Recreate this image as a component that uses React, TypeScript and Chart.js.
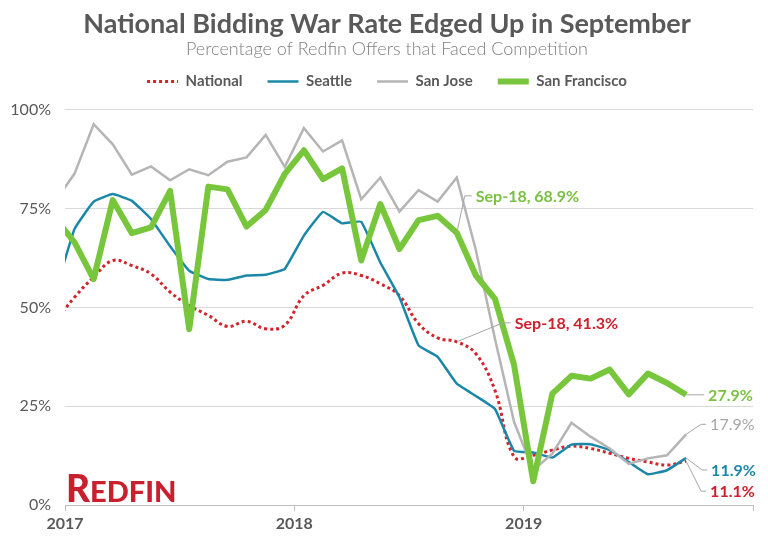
import React, { useEffect, useRef } from 'react';
import { Chart, registerables } from 'chart.js';

Chart.register(...registerables);

// Monthly data (Dec 2016 – Sep 2019), share of Redfin offers that faced competition (%)
const months = [
  '2016-12',
  '2017-01', '2017-02', '2017-03', '2017-04', '2017-05', '2017-06',
  '2017-07', '2017-08', '2017-09', '2017-10', '2017-11', '2017-12',
  '2018-01', '2018-02', '2018-03', '2018-04', '2018-05', '2018-06',
  '2018-07', '2018-08', '2018-09', '2018-10', '2018-11', '2018-12',
  '2019-01', '2019-02', '2019-03', '2019-04', '2019-05', '2019-06',
  '2019-07', '2019-08', '2019-09',
];

const national = [
  46.5,
  52.6, 57.7, 61.9, 60.6, 58.5, 53.9, 50.5, 48.0, 45.2, 46.5, 44.6, 45.5,
  53.0, 55.6, 58.7, 58.1, 56.0, 53.0, 45.9, 42.3, 41.3, 38.3, 29.0, 12.2,
  12.6, 13.9, 14.9, 14.3, 13.1, 11.8, 10.9, 10.1, 11.1,
];

const seattle = [
  54.0,
  69.9, 76.8, 78.7, 77.0, 72.4, 65.5, 59.3, 57.2, 57.0, 58.1, 58.3, 59.8,
  68.2, 74.2, 71.3, 71.7, 61.4, 52.6, 40.4, 37.5, 30.7, 27.6, 24.3, 13.7,
  13.3, 12.0, 15.3, 15.4, 13.9, 10.9, 7.8, 8.8, 11.9,
];

const sanJose = [
  77.0,
  83.9, 96.4, 91.3, 83.6, 85.7, 82.2, 85.0, 83.5, 86.9, 88.0, 93.7, 85.6,
  95.4, 89.5, 92.3, 77.4, 82.9, 74.3, 79.7, 76.8, 82.9, 64.5, 42.0, 21.0,
  8.8, 13.0, 20.8, 17.3, 14.3, 10.4, 11.8, 12.6, 17.9,
];

const sanFrancisco = [
  72.5,
  66.5, 57.2, 77.2, 68.8, 70.3, 79.5, 44.5, 80.6, 79.9, 70.5, 74.7, 83.8,
  89.8, 82.5, 85.2, 61.9, 76.2, 64.8, 72.1, 73.2, 68.9, 58.1, 52.2, 35.4,
  6.0, 28.2, 32.7, 32.0, 34.3, 28.0, 33.3, 30.9, 27.9,
];

const yearLabels = ['2017', '2018', '2019'];
const yTickValues = [0, 25, 50, 75, 100];

const TITLE = 'National Bidding War Rate Edged Up in September';
const SUBTITLE = 'Percentage of Redfin Offers that Faced Competition';

const COLORS = {
  national: '#d3242c',
  seattle: '#1b87a8',
  sanJose: '#b5b5b5',
  sanFrancisco: '#78c63c',
  text: '#595959',
  grid: '#d9d9d9',
  leader: '#a6a6a6',
};

// month label -> position on a linear month axis (0 = start of Jan 2017), mid-month
const monthPos = (m: string) => {
  const [yy, mm] = m.split('-').map(Number);
  return (yy - 2017) * 12 + (mm - 1) + 0.5;
};

const toPoints = (vals: number[]) => vals.map((v, i) => ({ x: monthPos(months[i]), y: v }));

// nudge the header blocks (title, subtitle, legend) a little to the right
const headerShiftPlugin = {
  id: 'headerShift',
  afterLayout(chart: any) {
    chart.boxes.forEach((b: any) => {
      if (b.position === 'top' && b.fullSize) {
        b.left += 10.5;
        b.right += 10.5;
      }
    });
  },
};

const annotationPlugin = {
  id: 'annotations',
  afterDatasetsDraw(chart: any) {
    const { ctx, scales } = chart;
    const xs = scales.x;
    const ys = scales.y;
    const sepIdx = months.indexOf('2018-09');
    const last = months.length - 1;
    const P = (vals: number[], i: number) => ({
      x: xs.getPixelForValue(monthPos(months[i])),
      y: ys.getPixelForValue(vals[i]),
    });
    const fmt = (v: number) => v.toFixed(1) + '%';

    type Ann = { p: { x: number; y: number }; mid: [number, number]; end: [number, number]; text: string; color: string; weight: string };
    const anns: Ann[] = [
      { p: P(sanFrancisco, sepIdx), mid: [8, -37], end: [15, -37], text: 'Sep-18, ' + fmt(sanFrancisco[sepIdx]), color: '#7ac143', weight: 'bold' },
      { p: P(national, sepIdx), mid: [46, -19], end: [54, -19], text: 'Sep-18, ' + fmt(national[sepIdx]), color: '#d0202e', weight: 'bold' },
      { p: P(sanFrancisco, last), mid: [10, 0], end: [18, 0], text: fmt(sanFrancisco[last]), color: '#7ac143', weight: 'bold' },
      { p: P(sanJose, last), mid: [15, -10], end: [20, -10], text: fmt(sanJose[last]), color: '#a6a6a6', weight: 'normal' },
      { p: P(seattle, last), mid: [16, 12], end: [21, 12], text: fmt(seattle[last]), color: '#1b87a8', weight: 'bold' },
      { p: P(national, last), mid: [15, 30], end: [20, 30], text: fmt(national[last]), color: '#d0202e', weight: 'bold' },
    ];

    ctx.save();
    for (const a of anns) {
      ctx.strokeStyle = COLORS.leader;
      ctx.lineWidth = 1;
      ctx.setLineDash([]);
      ctx.beginPath();
      ctx.moveTo(a.p.x, a.p.y);
      ctx.lineTo(a.p.x + a.mid[0], a.p.y + a.mid[1]);
      ctx.lineTo(a.p.x + a.end[0], a.p.y + a.end[1]);
      ctx.stroke();
      ctx.fillStyle = a.color;
      ctx.font = `${a.weight} 16px Lato`;
      ctx.textAlign = 'left';
      ctx.textBaseline = 'middle';
      ctx.fillText(a.text, a.p.x + a.end[0] + 4, a.p.y + a.end[1] + 1);
    }

    // Redfin wordmark
    const left = chart.chartArea.left + 1;
    const base = chart.chartArea.bottom - 3;
    ctx.fillStyle = '#c8202f';
    ctx.textBaseline = 'alphabetic';
    ctx.font = '900 37px Lato';
    ctx.fillText('R', left, base);
    const rw = ctx.measureText('R').width;
    ctx.font = '900 29px Lato';
    ctx.fillText('EDFIN', left + rw, base);
    ctx.restore();
  },
};

export default function App() {
  const canvasRef = useRef<HTMLCanvasElement | null>(null);

  useEffect(() => {
    if (!canvasRef.current) return;
    const chart = new Chart(canvasRef.current, {
      type: 'line',
      data: {
        datasets: [
          {
            label: 'San Francisco',
            data: toPoints(sanFrancisco),
            borderColor: COLORS.sanFrancisco,
            backgroundColor: COLORS.sanFrancisco,
            borderWidth: 6,
            borderJoinStyle: 'round',
            pointRadius: 0,
            pointHoverRadius: 0,
            tension: 0,
          },
          {
            label: 'San Jose',
            data: toPoints(sanJose),
            borderColor: COLORS.sanJose,
            backgroundColor: COLORS.sanJose,
            borderWidth: 2.5,
            pointRadius: 0,
            pointHoverRadius: 0,
            tension: 0,
          },
          {
            label: 'Seattle',
            data: toPoints(seattle),
            borderColor: COLORS.seattle,
            backgroundColor: COLORS.seattle,
            borderWidth: 2.5,
            pointRadius: 0,
            pointHoverRadius: 0,
            tension: 0.1,
          },
          {
            label: 'National',
            data: toPoints(national),
            borderColor: COLORS.national,
            backgroundColor: COLORS.national,
            borderWidth: 3,
            borderDash: [3, 3],
            pointRadius: 0,
            pointHoverRadius: 0,
            tension: 0.4,
          },
        ],
      },
      options: {
        animation: false,
        responsive: false,
        maintainAspectRatio: false,
        layout: { padding: { left: 0, right: 15, top: 0, bottom: 0 } },
        plugins: {
          tooltip: { enabled: false },
          title: {
            display: true,
            text: TITLE,
            color: COLORS.text,
            font: { family: 'Lato', size: 27, weight: 'bold', lineHeight: 0 },
            padding: { top: 24, bottom: 0 },
          },
          subtitle: {
            display: true,
            text: SUBTITLE,
            color: '#808080',
            font: { family: 'Lato', size: 18, weight: 300, lineHeight: 0 },
            padding: { top: 25, bottom: 0 },
          },
          legend: {
            display: true,
            position: 'top',
            labels: {
              usePointStyle: true,
              pointStyleWidth: 31,
              padding: 25,
              color: COLORS.text,
              font: { family: 'Lato', size: 15, weight: 'bold' },
              generateLabels: (ch: any) =>
                ch.data.datasets
                  .map((ds: any, i: number) => ({
                    text: ds.label,
                    fillStyle: ds.borderColor,
                    strokeStyle: ds.borderColor,
                    lineWidth: ds.borderWidth,
                    lineDash: ds.borderDash || [],
                    lineCap: 'butt',
                    pointStyle: 'line',
                    hidden: false,
                    datasetIndex: i,
                    fontColor: COLORS.text,
                  }))
                  .reverse(),
            },
          },
        },
        scales: {
          x: {
            type: 'linear',
            min: 0,
            max: 36,
            afterFit: (scale: any) => { scale.height = 37; },
            afterBuildTicks: (scale: any) => {
              scale.ticks = [0, 12, 24, 36].map((v) => ({ value: v }));
            },
            ticks: {
              autoSkip: false,
              maxRotation: 0,
              padding: 3,
              color: COLORS.text,
              font: { family: 'Lato', size: 16, weight: 'bold' },
              callback: (v: any) => {
                const i = Number(v) / 12;
                return Number.isInteger(i) && i < yearLabels.length ? yearLabels[i] : '';
              },
            },
            grid: {
              drawOnChartArea: false,
              drawTicks: true,
              tickLength: 6,
              color: '#bfbfbf',
            },
            border: { display: true, color: '#bfbfbf', width: 1 },
          },
          y: {
            type: 'linear',
            min: 0,
            max: 102.78,
            afterFit: (scale: any) => { scale.width = 65; },
            afterBuildTicks: (scale: any) => {
              scale.ticks = yTickValues.map((v) => ({ value: v }));
            },
            ticks: {
              padding: 14,
              color: COLORS.text,
              font: { family: 'Lato', size: 16 },
              callback: (v: any) => `${v}%`,
            },
            grid: {
              drawTicks: false,
              color: COLORS.grid,
              lineWidth: 1,
            },
            border: { display: false },
          },
        },
      },
      plugins: [headerShiftPlugin, annotationPlugin],
    });
    return () => chart.destroy();
  }, []);

  return (
    <div style={{ position: 'absolute', left: 0, top: 0, width: 768, height: 542, background: '#fff' }}>
      <canvas ref={canvasRef} width={768} height={542} style={{ display: 'block' }} />
    </div>
  );
}
